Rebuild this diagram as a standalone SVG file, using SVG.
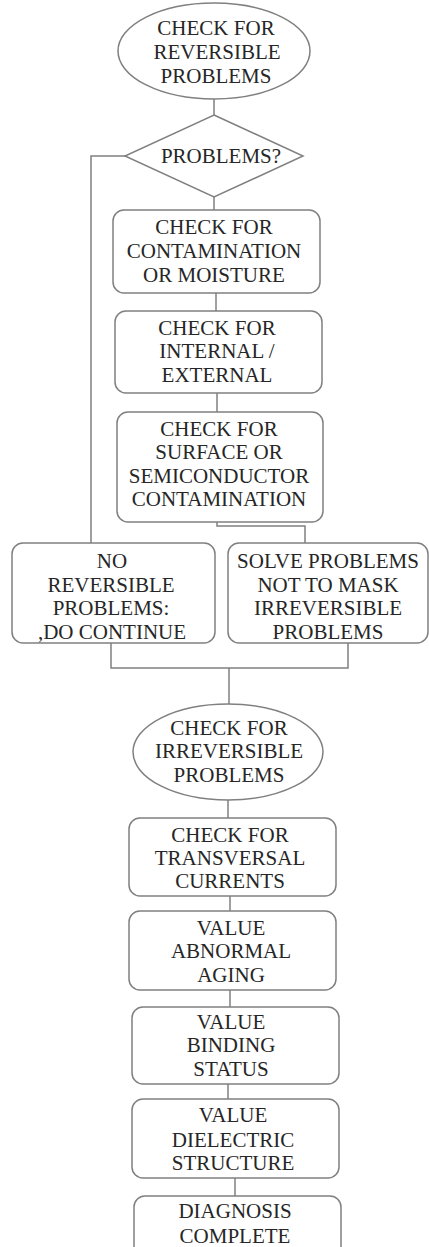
<svg xmlns="http://www.w3.org/2000/svg" width="429" height="1247" viewBox="0 0 429 1247">
<style>
.s{fill:#ffffff;stroke:#808080;stroke-width:1.5}
.c{fill:none;stroke:#808080;stroke-width:1.5}
text{font-family:"Liberation Serif","Times New Roman",serif;font-size:21px;fill:#262626;text-anchor:middle}
</style>
<rect width="429" height="1247" fill="#ffffff"/>
<g id="connectors">
<path class="c" d="M214 99V115"/>
<path class="c" d="M214 197V210"/>
<path class="c" d="M216 293V311"/>
<path class="c" d="M217 393V412"/>
<path class="c" d="M217 522V526H305V543"/>
<path class="c" d="M125 156H91V543"/>
<path class="c" d="M111 643V668H348V643"/>
<path class="c" d="M229 668V705"/>
<path class="c" d="M228 800V818"/>
<path class="c" d="M230 896V911"/>
<path class="c" d="M230 990V1007"/>
<path class="c" d="M228 1084V1099"/>
<path class="c" d="M235 1178V1196"/>
</g>
<g id="start">
<ellipse class="s" cx="214" cy="51" rx="96" ry="48"/>
<text x="216" y="35">CHECK FOR</text>
<text x="217" y="59">REVERSIBLE</text>
<text x="216" y="83">PROBLEMS</text>
</g>
<g id="decision">
<polygon class="s" points="214,115 303,156 214,197 125,156"/>
<text x="221" y="163">PROBLEMS?</text>
</g>
<g id="contamination">
<rect class="s" x="113" y="210" width="207" height="83" rx="11"/>
<text x="214" y="234">CHECK FOR</text>
<text x="214" y="258">CONTAMINATION</text>
<text x="214" y="282">OR MOISTURE</text>
</g>
<g id="internal">
<rect class="s" x="115" y="311" width="207" height="82" rx="11"/>
<text x="217" y="335">CHECK FOR</text>
<text x="217" y="358">INTERNAL /</text>
<text x="217" y="382">EXTERNAL</text>
</g>
<g id="surface">
<rect class="s" x="117" y="412" width="206" height="110" rx="11"/>
<text x="219" y="436">CHECK FOR</text>
<text x="219" y="459">SURFACE OR</text>
<text x="219" y="483">SEMICONDUCTOR</text>
<text x="219" y="506">CONTAMINATION</text>
</g>
<g id="noreversible">
<rect class="s" x="12" y="543" width="203" height="100" rx="11"/>
<text x="112" y="568">NO</text>
<text x="111" y="592">REVERSIBLE</text>
<text x="111" y="615">PROBLEMS:</text>
<text x="112" y="639">,DO CONTINUE</text>
</g>
<g id="solve">
<rect class="s" x="228" y="543" width="200" height="100" rx="11"/>
<text x="328" y="568">SOLVE PROBLEMS</text>
<text x="328" y="592">NOT TO MASK</text>
<text x="328" y="615">IRREVERSIBLE</text>
<text x="328" y="639">PROBLEMS</text>
</g>
<g id="irreversible">
<ellipse class="s" cx="228" cy="752" rx="95" ry="48"/>
<text x="229" y="735">CHECK FOR</text>
<text x="229" y="758">IRREVERSIBLE</text>
<text x="229" y="782">PROBLEMS</text>
</g>
<g id="transversal">
<rect class="s" x="129" y="818" width="207" height="78" rx="11"/>
<text x="230" y="842">CHECK FOR</text>
<text x="230" y="865">TRANSVERSAL</text>
<text x="230" y="888">CURRENTS</text>
</g>
<g id="aging">
<rect class="s" x="129" y="911" width="207" height="79" rx="11"/>
<text x="231" y="935">VALUE</text>
<text x="231" y="958">ABNORMAL</text>
<text x="231" y="982">AGING</text>
</g>
<g id="binding">
<rect class="s" x="132" y="1007" width="207" height="77" rx="11"/>
<text x="231" y="1029">VALUE</text>
<text x="231" y="1052">BINDING</text>
<text x="231" y="1076">STATUS</text>
</g>
<g id="dielectric">
<rect class="s" x="132" y="1099" width="207" height="79" rx="11"/>
<text x="233" y="1122">VALUE</text>
<text x="233" y="1147">DIELECTRIC</text>
<text x="233" y="1170">STRUCTURE</text>
</g>
<g id="complete">
<rect class="s" x="134" y="1196" width="207" height="70" rx="11"/>
<text x="235" y="1218">DIAGNOSIS</text>
<text x="235" y="1243">COMPLETE</text>
</g>
</svg>
